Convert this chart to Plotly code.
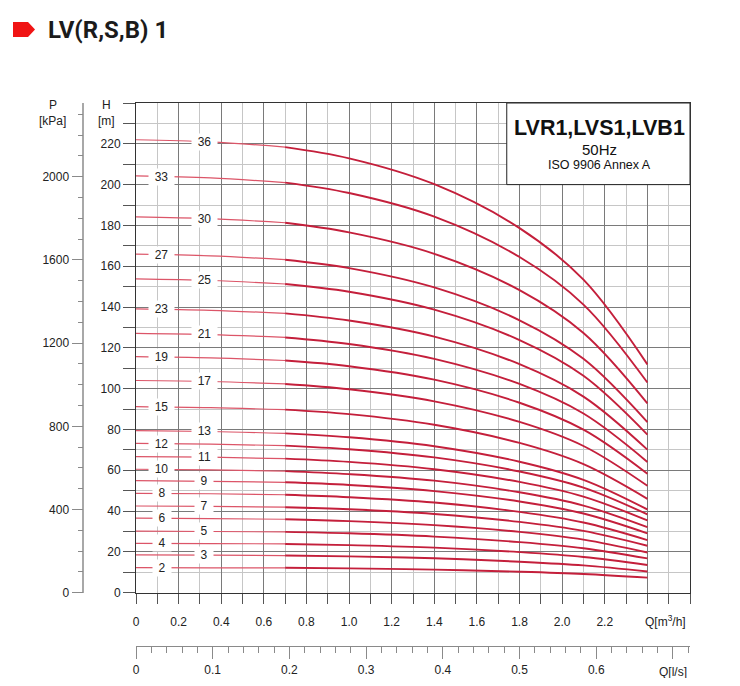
import numpy as np
import plotly.graph_objects as go

q = [0, 0.35, 0.7, 1.0, 1.4, 1.8, 2.1, 2.4]

# head (m) for each number of stages
h_02 = [12.3, 12.2, 12.2, 11.9, 11.3, 10.3, 9.2, 7.4]
h_03 = [18.5, 18.4, 18.2, 17.8, 16.9, 15.2, 13.4, 10.4]
h_04 = [24.2, 24.1, 23.9, 23.3, 22.1, 19.9, 17.5, 13.6]
h_05 = [30.2, 30.0, 29.8, 29.1, 27.5, 24.8, 21.8, 16.8]
h_06 = [36.5, 36.3, 36.0, 35.1, 33.1, 29.8, 26.0, 19.7]
h_07 = [42.5, 42.3, 41.9, 40.9, 38.6, 34.7, 30.3, 23.0]
h_08 = [48.7, 48.5, 48.0, 46.8, 44.2, 39.6, 34.4, 25.8]
h_09 = [54.9, 54.6, 54.1, 52.8, 49.8, 44.7, 38.8, 29.1]
h_10 = [60.5, 60.2, 59.6, 58.1, 54.9, 49.2, 42.7, 32.1]
h_11 = [66.7, 66.4, 65.7, 64.1, 60.5, 54.3, 47.1, 35.4]
h_12 = [73.2, 72.8, 72.1, 70.3, 66.3, 59.4, 51.5, 38.4]
h_13 = [79.4, 79.0, 78.1, 76.2, 71.8, 64.2, 55.3, 40.8]
h_15 = [91.2, 90.7, 89.7, 87.5, 82.3, 73.4, 63.0, 46.0]
h_17 = [104.0, 103.5, 102.3, 99.7, 93.8, 83.7, 71.9, 52.4]
h_19 = [115.7, 115.1, 113.8, 111.0, 104.4, 93.1, 79.9, 58.3]
h_21 = [127.1, 126.5, 125.1, 121.9, 114.6, 102.3, 87.8, 64.1]
h_23 = [139.1, 138.4, 136.9, 133.4, 125.5, 112.0, 96.1, 70.1]
h_25 = [153.8, 153.0, 151.3, 147.5, 138.7, 123.8, 106.3, 77.5]
h_27 = [165.9, 165.1, 163.2, 159.1, 149.6, 133.5, 114.6, 83.6]
h_30 = [184.2, 183.3, 181.3, 176.6, 166.1, 148.3, 127.3, 92.8]
h_33 = [204.3, 203.3, 201.0, 195.9, 184.3, 164.5, 141.2, 103.0]
h_36 = [222.0, 220.9, 218.4, 212.9, 200.2, 178.7, 153.4, 111.9]

stages = [2, 3, 4, 5, 6, 7, 8, 9, 10, 11, 12, 13, 15, 17, 19, 21, 23, 25, 27, 30, 33, 36]
label_side = ['L', 'R', 'L', 'R', 'L', 'R', 'L', 'R', 'L', 'R', 'L',
              'R', 'L', 'R', 'L', 'R', 'L', 'R', 'L', 'R', 'L', 'R']
heads = [h_02, h_03, h_04, h_05, h_06, h_07, h_08, h_09, h_10, h_11, h_12,
         h_13, h_15, h_17, h_19, h_21, h_23, h_25, h_27, h_30, h_33, h_36]

# axis ticks
q_ticks = [0, 0.2, 0.4, 0.6, 0.8, 1.0, 1.2, 1.4, 1.6, 1.8, 2.0, 2.2, 2.4, 2.6]
q_text = ['0', '0.2', '0.4', '0.6', '0.8', '1.0', '1.2', '1.4', '1.6', '1.8', '2.0', '2.2', ' ', ' ']
q_minor = [0.1, 0.3, 0.5, 0.7, 0.9, 1.1, 1.3, 1.5, 1.7, 1.9, 2.1, 2.3, 2.5]
h_ticks = [0, 20, 40, 60, 80, 100, 120, 140, 160, 180, 200, 220, 240]
h_text = ['0', '20', '40', '60', '80', '100', '120', '140', '160', '180', '200', '220', ' ']
h_minor = [10, 30, 50, 70, 90, 110, 130, 150, 170, 190, 210, 230]
p_ticks = [0, 400, 800, 1200, 1600, 2000]
p_text = ['0', '400', '800', '1200', '1600', '2000']
ls_ticks = [0, 0.1, 0.2, 0.3, 0.4, 0.5, 0.6, 0.7]
ls_text = ['0', '0.1', '0.2', '0.3', '0.4', '0.5', '0.6', ' ']

Q_MAX = 2.6
H_MAX = 240
RHO_G = 9.81  # kPa per m of water

# page geometry (page pixels); the html body adds an 8px margin
PAD = 8
W, HGT = 740 - 2 * PAD, 686 - 2 * PAD
ML, MR, MT, MB = 40 - PAD, 50 - PAD, 103 - PAD, 40 - PAD


def px(x):
    return (x - PAD - ML) / (W - ML - MR)


def py(y):
    return (HGT - MB - (y - PAD)) / (HGT - MT - MB)


X_DOMAIN = [px(136), 1]
Y_DOMAIN = [py(592.7), 1]

DARK = '#c41f3b'
LIGHT = '#dc5568'
GRID_DARK = '#7a7a7a'
GRID_LIGHT = '#c6c6c6'
FONT = 'Liberation Sans, Arial, sans-serif'
TXT = '#222222'

fig = go.Figure()
annotations = []

for n, h, side in zip(stages, heads, label_side):
    # thin part before the operating range, thicker after
    fig.add_trace(go.Scatter(x=q[:3], y=h[:3], mode='lines',
                             line=dict(color=LIGHT, width=1.2, shape='spline'),
                             hoverinfo='skip', showlegend=False))
    fig.add_trace(go.Scatter(x=q[2:], y=h[2:], mode='lines',
                             line=dict(color=DARK, width=1.9, shape='spline'),
                             hoverinfo='skip', showlegend=False))
    xq = 0.12 if side == 'L' else 0.32
    annotations.append(dict(x=xq, y=float(np.interp(xq, q, h)), xref='x', yref='y',
                            text=str(n), showarrow=False, bgcolor='white',
                            width=7 * len(str(n)) + 9, borderpad=1,
                            font=dict(family=FONT, size=12, color=TXT)))

# invisible traces so the extra axes are drawn
fig.add_trace(go.Scatter(x=[0], y=[0], xaxis='x2', yaxis='y', mode='markers',
                         marker=dict(opacity=0), hoverinfo='skip', showlegend=False))
fig.add_trace(go.Scatter(x=[0], y=[0], xaxis='x', yaxis='y2', mode='markers',
                         marker=dict(opacity=0), hoverinfo='skip', showlegend=False))

tick_font = dict(family=FONT, size=12, color=TXT)

# axis captions
for text, x, y in [('P', 52.7, 105), ('[kPa]', 52.7, 120.7), ('H', 106, 105), ('[m]', 106, 120.7),
                   ('Q[m<sup>3</sup>/h]', 665, 621), ('Q[l/s]', 673, 672)]:
    annotations.append(dict(x=px(x), y=py(y), xref='paper', yref='paper', text=text,
                            showarrow=False, xanchor='center', yanchor='middle', font=tick_font))

# chart title
annotations.append(dict(x=px(46), y=py(30), xref='paper', yref='paper',
                        text='<b>LV(R,S,B) 1</b>', showarrow=False, xanchor='left', yanchor='middle',
                        font=dict(family='Roboto, sans-serif', size=24, color='#1b1b1b')))

# model box text
for text, y, size in [('<b>LVR1,LVS1,LVB1</b>', 128, 21.5), ('50Hz', 149, 15), ('ISO 9906 Annex A', 165, 12.5)]:
    annotations.append(dict(x=px(599), y=py(y), xref='paper', yref='paper', text=text,
                            showarrow=False, xanchor='center', yanchor='middle',
                            font=dict(family=FONT, size=size, color='#111111')))

shapes = [
    dict(type='rect', xref='x', yref='y', x0=1.74, x1=Q_MAX, y0=200, y1=H_MAX,
         fillcolor='white', line=dict(color='#222222', width=1), layer='above'),
    dict(type='path', xref='paper', yref='paper',
         path=f'M {px(13)},{py(22)} L {px(28)},{py(22)} L {px(35)},{py(29.5)} '
              f'L {px(28)},{py(37)} L {px(13)},{py(37)} Z',
         fillcolor='#f01414', line=dict(width=0)),
]

fig.update_layout(
    width=W, height=HGT,
    margin=dict(l=ML, r=MR, t=MT, b=MB, autoexpand=False),
    paper_bgcolor='white', plot_bgcolor='white',
    showlegend=False,
    xaxis=dict(domain=X_DOMAIN, range=[0, Q_MAX], anchor='y', automargin=False,
               tickvals=q_ticks, ticktext=q_text, ticks='outside', ticklen=10,
               tickcolor='#555555', ticklabelstandoff=8, tickfont=tick_font,
               showgrid=True, gridcolor=GRID_DARK, gridwidth=1,
               showline=True, linecolor='#333333', linewidth=1, mirror=True, zeroline=False,
               minor=dict(tickvals=q_minor, ticks='outside', ticklen=10, tickcolor='#555555',
                          showgrid=True, gridcolor=GRID_LIGHT, gridwidth=1)),
    yaxis=dict(domain=Y_DOMAIN, range=[0, H_MAX], anchor='x', automargin=False,
               tickvals=h_ticks, ticktext=h_text, ticks='outside', ticklen=12,
               tickcolor='#555555', tickfont=tick_font,
               showgrid=True, gridcolor=GRID_DARK, gridwidth=1,
               showline=True, linecolor='#333333', linewidth=1, mirror=True, zeroline=False,
               minor=dict(tickvals=h_minor, ticks='outside', ticklen=12, tickcolor='#555555',
                          showgrid=True, gridcolor=GRID_LIGHT, gridwidth=1)),
    xaxis2=dict(overlaying='x', anchor='free', position=0, side='bottom', automargin=False,
                range=[0, Q_MAX / 3.6], tickvals=ls_ticks, ticktext=ls_text,
                ticks='outside', ticklen=12, tickcolor='#8a8a8a', ticklabelstandoff=0,
                tickfont=tick_font, showgrid=False, zeroline=False,
                showline=True, linecolor='#8a8a8a', linewidth=1.2,
                minor=dict(dtick=0.02, tick0=0, ticks='outside', ticklen=6,
                           tickcolor='#8a8a8a', showgrid=False)),
    yaxis2=dict(overlaying='y', anchor='free', position=px(83.3), side='left', automargin=False,
                range=[0, H_MAX * RHO_G], tickvals=p_ticks, ticktext=p_text,
                ticks='outside', ticklen=11, tickcolor='#8a8a8a', tickfont=tick_font,
                showgrid=False, zeroline=False,
                showline=True, linecolor='#a8a8a8', linewidth=1.6,
                minor=dict(dtick=100, tick0=0, ticks='outside', ticklen=5,
                           tickcolor='#8a8a8a', showgrid=False)),
    annotations=annotations,
    shapes=shapes,
)

fig.write_html('out.html')
